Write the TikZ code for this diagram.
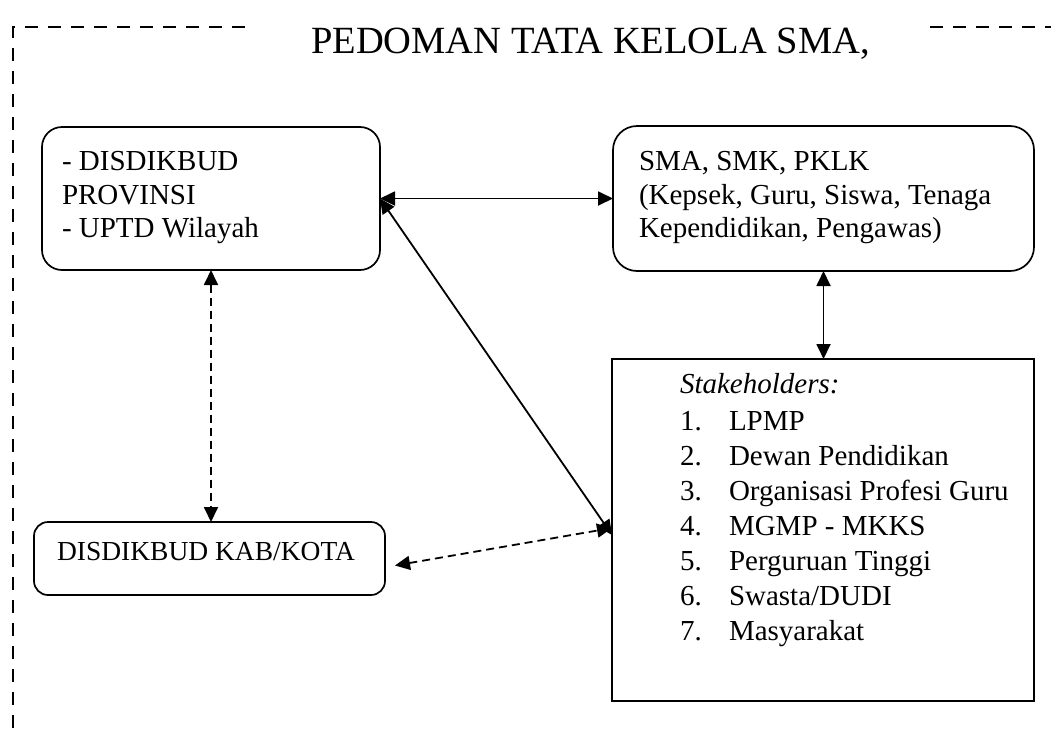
\documentclass[tikz,border=0pt]{standalone}
\usepackage{fontspec}
\setmainfont{Liberation Serif}
\usetikzlibrary{arrows.meta,calc}
\begin{document}
\begin{tikzpicture}[x=1pt,y=-1pt,
  frame/.style={line width=1.6pt, dash pattern=on 13pt off 10pt},
  rbox/.style={draw, line width=1.7pt, rounded corners=20pt, inner sep=0pt, outer sep=0pt, anchor=north west},
  sbox/.style={draw, line width=1.7pt, inner sep=0pt, outer sep=0pt, anchor=north west},
  txt/.style={inner sep=0pt, outer sep=0pt, anchor=base west, font=\fontsize{29}{35}\selectfont},
  stxt/.style={txt, font=\fontsize{27.5}{32}\selectfont},
  arr/.style={line width=1.8pt, {Triangle[length=15pt,width=14pt]}-{Triangle[length=15pt,width=14pt]}},
  darr/.style={arr, dash pattern=on 8pt off 5pt}]
\useasboundingbox (0,0) rectangle (1051,734);
% frame
\draw[frame] (245,27) -- (13,27) -- (13,734);
\draw[frame] (930,27) -- (1051,27);
\node[inner sep=0pt, anchor=base west, font=\fontsize{38.5}{46}\selectfont] (title) at (311,53) {PEDOMAN TATA KELOLA SMA,};
% boxes
\node[rbox, minimum width=338pt, minimum height=143pt] (b1) at (42,127) {};
\node[rbox, minimum width=421pt, minimum height=145pt, rounded corners=24pt] (b2) at (613,126) {};
\node[rbox, minimum width=351pt, minimum height=73pt, rounded corners=14pt] (b3) at (34,522) {};
\node[sbox, minimum width=422pt, minimum height=342pt] (b4) at (612,359) {};
% texts
\node[txt] (t11) at (62,170) {- DISDIKBUD};
\node[txt] (t12) at (62,204) {PROVINSI};
\node[txt] (t13) at (62,237) {- UPTD Wilayah};
\node[txt] (t21) at (639,170) {SMA, SMK, PKLK};
\node[txt] (t22) at (639,204) {(Kepsek, Guru, Siswa, Tenaga};
\node[txt] (t23) at (639,237) {Kependidikan, Pengawas)};
\node[stxt] (t31) at (57,560) {DISDIKBUD KAB/KOTA};
\node[txt] (t40) at (680,393) {\itshape Stakeholders:};
\foreach \n/\s [count=\i from 0] in {1/{LPMP},2/{Dewan Pendidikan},3/{Organisasi Profesi Guru},4/{MGMP - MKKS},5/{Perguruan Tinggi},6/{Swasta/DUDI},7/{Masyarakat}}{
  \node[txt] (n\n) at (680,430+35*\i) {\n.};
  \node[txt] (s\n) at (729,430+35*\i) {\s};
}
% connectors
\draw[arr] (b1.east) -- (b2.west);
\draw[arr] (b2.south) -- (b2.south |- b4.north);
\draw[arr] (b1.east) -- ([yshift=-5pt]b4.west);
\draw[darr] (b1.south) -- (b1.south |- b3.north);
\draw[darr] ([shift={(10,7)}]b3.east) -- ([yshift=2pt]b4.west);
\end{tikzpicture}
\end{document}
